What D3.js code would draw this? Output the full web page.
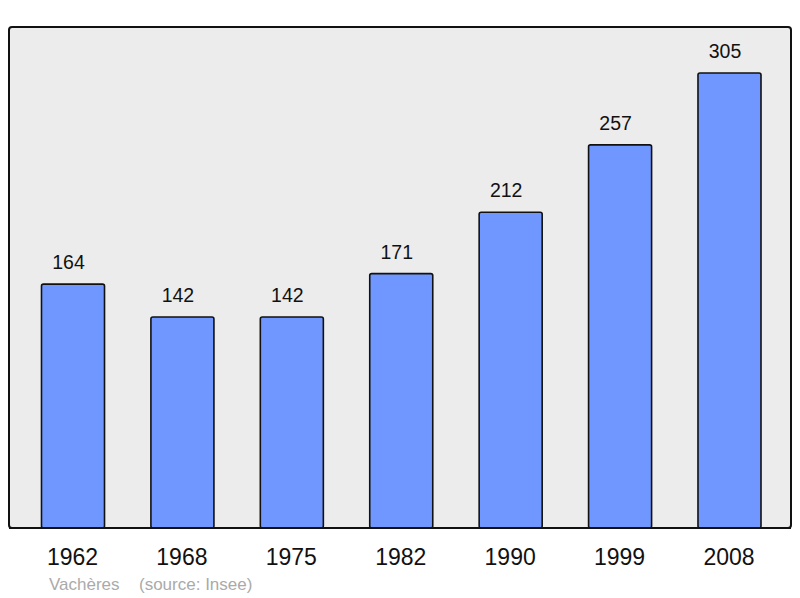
<!DOCTYPE html>
<html>
<head>
<meta charset="utf-8">
<script src="https://cdn.jsdelivr.net/npm/d3@7"></script>
<style>
  body { margin: 0; background: #fff; }
  text { font-family: "Liberation Sans", Arial, sans-serif; }
</style>
</head>
<body>
<script>
const years = ["1962", "1968", "1975", "1982", "1990", "1999", "2008"];
const population = [164, 142, 142, 171, 212, 257, 305];
const commune = "Vachères";
const source = "(source: Insee)";

const w = 800, h = 598;

const svg = d3.select("body").append("svg")
    .attr("width", w)
    .attr("height", h);

// panel
svg.append("rect")
    .attr("x", 9).attr("y", 27)
    .attr("width", 782).attr("height", 501)
    .attr("rx", 3)
    .attr("fill", "#ececec")
    .attr("stroke", "#111")
    .attr("stroke-width", 2);

const x = d3.scaleBand()
    .domain(years)
    .range([18.3, 784.2])
    .paddingInner(0.424)
    .paddingOuter(0.212);

const y = d3.scaleLinear()
    .domain([0, 305])
    .range([529.6, 73]);

const bars = svg.append("g").selectAll("g").data(years).enter().append("g");

bars.append("rect")
    .attr("x", d => x(d))
    .attr("y", (d, i) => y(population[i]))
    .attr("width", x.bandwidth())
    .attr("height", (d, i) => 528 - y(population[i]))
    .attr("rx", 2)
    .attr("fill", "#7097ff")
    .attr("stroke", "#111")
    .attr("stroke-width", 1.6);

bars.append("text")
    .attr("x", d => x(d) + x.bandwidth() / 2 - 4.5)
    .attr("y", (d, i) => y(population[i]) - 15)
    .attr("text-anchor", "middle")
    .attr("font-size", 19.5)
    .attr("fill", "#111")
    .text((d, i) => population[i]);

// redraw panel bottom edge over bars
svg.append("line")
    .attr("x1", 9).attr("x2", 791)
    .attr("y1", 528).attr("y2", 528)
    .attr("stroke", "#111")
    .attr("stroke-width", 2);

svg.append("g").selectAll("text").data(years).enter().append("text")
    .attr("x", d => x(d) + x.bandwidth() / 2 - 0.5)
    .attr("y", 565)
    .attr("text-anchor", "middle")
    .attr("font-size", 23)
    .attr("fill", "#111")
    .text(d => d);

svg.append("text")
    .attr("x", 49).attr("y", 590)
    .attr("font-size", 17)
    .attr("fill", "#aaa")
    .text(commune);

svg.append("text")
    .attr("x", 139).attr("y", 590)
    .attr("font-size", 17)
    .attr("fill", "#aaa")
    .text(source);
</script>
</body>
</html>
